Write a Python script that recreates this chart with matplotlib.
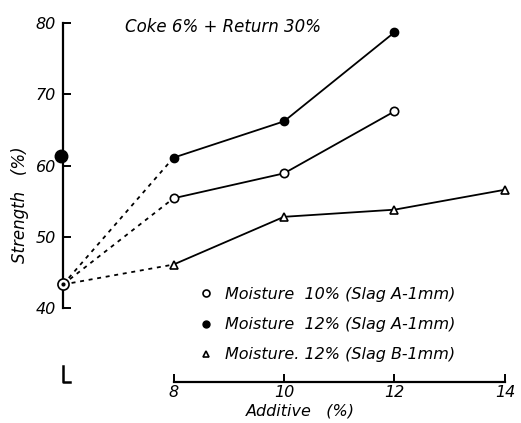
import matplotlib
matplotlib.use('Agg')
import matplotlib.pyplot as plt
from matplotlib.lines import Line2D

plt.rcParams['font.family'] = ['DejaVu Sans']
plt.rcParams['font.style'] = 'italic'

# 数据
additive = [8, 10, 12, 14]
base_x = 6          # 无添加剂点（画在断开的纵轴上）
base_strength = 43.3
big_dot_strength = 61.3

m10_slagA = [55.4, 58.9, 67.6]
m12_slagA = [61.1, 66.2, 78.7]
m12_slagB = [46.1, 52.8, 53.8, 56.6]

legend_labels = ['Moisture  10% (Slag A-1mm)',
                 'Moisture  12% (Slag A-1mm)',
                 'Moisture. 12% (Slag B-1mm)']

fig = plt.figure(figsize=(5.21, 4.23), dpi=100)
ax = fig.add_axes([0.0998, 0.0967, 0.8906, 0.8657])
ax.set_xlim(5.8, 14.2)
ax.set_ylim(29.6, 81)

lw = 1.3
dot = (0, (2.2, 2.6))

# 虚线：原点到 8%
for ys in [m10_slagA, m12_slagA, m12_slagB]:
    ax.plot([base_x, additive[0]], [base_strength, ys[0]], color='black',
            lw=lw, linestyle=dot, zorder=2)

ax.plot(additive[:3], m10_slagA, color='black', lw=lw, marker='o', ms=6,
        mfc='white', mec='black', mew=1.2, zorder=3)
ax.plot(additive[:3], m12_slagA, color='black', lw=lw, marker='o', ms=6,
        mfc='black', mec='black', zorder=3)
ax.plot(additive, m12_slagB, color='black', lw=lw, marker='^', ms=6,
        mfc='white', mec='black', mew=1.2, zorder=3)

# 纵轴上的点
ax.plot([base_x], [base_strength], marker='o', ms=8, mfc='white', mec='black',
        mew=1.2, clip_on=False, zorder=4)
ax.plot([base_x], [base_strength], marker='o', ms=2, color='black',
        clip_on=False, zorder=5)
ax.plot([base_x - 0.03], [big_dot_strength], marker='o', ms=9, color='black',
        clip_on=False, zorder=4)

# 坐标轴
for s in ['top', 'right']:
    ax.spines[s].set_visible(False)
ax.spines['left'].set_position(('data', base_x))
ax.spines['left'].set_bounds(40, 80)
ax.spines['bottom'].set_bounds(additive[0], additive[-1])
ax.spines['left'].set_linewidth(1.6)
ax.spines['bottom'].set_linewidth(1.6)
ax.set_yticks([40, 50, 60, 70, 80])
ax.set_xticks(additive)
ax.tick_params(direction='in', length=6, width=1.4, labelsize=11.5)
ax.tick_params(axis='x', pad=2)
ax.tick_params(axis='y', pad=5)

# 断轴标记
ylo = ax.get_ylim()[0]
ax.plot([base_x, base_x, base_x + 0.13], [ylo + 2.2, ylo, ylo], color='black',
        lw=1.8, clip_on=False)

fig.text(0.24, 0.935, 'Coke 6% + Return 30%', fontsize=12, ha='left', va='center')
fig.text(0.038, 0.515, 'Strength   (%)', fontsize=12, rotation=90,
         ha='center', va='center')
fig.text(0.576, 0.028, 'Additive   (%)', fontsize=11.5, ha='center', va='center')

handles = [Line2D([], [], ls='none', marker='o', ms=5, mfc='white', mec='black', mew=1.2),
           Line2D([], [], ls='none', marker='o', ms=5, mfc='black', mec='black'),
           Line2D([], [], ls='none', marker='^', ms=5, mfc='white', mec='black', mew=1.2)]
ax.legend(handles, legend_labels, loc='upper left', bbox_to_anchor=(0.3, 0.277),
          frameon=False, fontsize=11.5, handletextpad=0.7, labelspacing=0.95,
          handlelength=1.0, borderaxespad=0)

fig.savefig('out.png', dpi=100)
